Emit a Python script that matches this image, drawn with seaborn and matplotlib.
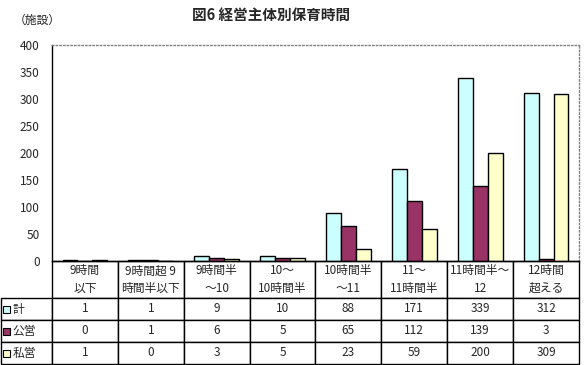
import pandas as pd
import matplotlib
matplotlib.use("Agg")
import matplotlib.pyplot as plt
from matplotlib.patches import Rectangle
import seaborn as sns

categories = ["9時間\n以下", "9時間超 9\n時間半以下", "9時間半\n～10", "10～\n10時間半",
              "10時間半\n～11", "11～\n11時間半", "11時間半～\n12", "12時間\n超える"]
series = ["計", "公営", "私営"]
total = [1, 1, 9, 10, 88, 171, 339, 312]
public = [0, 1, 6, 5, 65, 112, 139, 3]
private = [1, 0, 3, 5, 23, 59, 200, 309]
yticks = [0, 50, 100, 150, 200, 250, 300, 350, 400]

colors = {"計": "#CCFFFF", "公営": "#993366", "私営": "#FFFFCC"}

df = pd.DataFrame({
    "区分": categories * 3,
    "主体": [s for s in series for _ in categories],
    "施設数": total + public + private,
})

sns.set_style("white")
plt.rcParams["font.family"] = ["Noto Sans CJK JP", "DejaVu Sans"]

W, H = 587, 365
AX_W, AX_H = 527, 216
fig = plt.figure(figsize=(W / 100, H / 100), dpi=100)
ax = fig.add_axes([52 / W, 104 / H, AX_W / W, AX_H / H])

sns.barplot(data=df, x="区分", y="施設数", hue="主体", order=categories,
            hue_order=series, palette=colors, width=0.68, gap=0,
            edgecolor="black", linewidth=1.0, saturation=1, ax=ax, legend=False)

ax.set_xlim(-0.5, len(categories) - 0.5)
ax.set_ylim(0, 400)
ax.set_yticks(yticks)
ax.set_yticklabels([str(v) for v in yticks], fontsize=8.5)
ax.tick_params(axis="y", length=0, pad=9)
ax.set_xticks([])
ax.set_xlabel("")
ax.set_ylabel("")
for side in ["left", "bottom"]:
    ax.spines[side].set_color("black")
    ax.spines[side].set_linewidth(1.0)
for side in ["top", "right"]:
    ax.spines[side].set_color("#808080")
    ax.spines[side].set_linestyle(":")
    ax.spines[side].set_linewidth(1.0)

# data table under the chart, sizes in axes fractions (bbox = data cells only)
head_h, row_h, label_w = 37, 22, 51
cell_text = [[str(v) for v in total], [str(v) for v in public], [str(v) for v in private]]
tbl = ax.table(cellText=cell_text, rowLabels=series, colLabels=categories,
               cellLoc="center", rowLoc="left", loc="bottom",
               bbox=[0, -(head_h + 3 * row_h) / AX_H, 1, (head_h + 3 * row_h) / AX_H])
tbl.auto_set_font_size(False)
tbl._autoColumns = []  # keep the fixed width of the row label column
for (r, c), cell in tbl.get_celld().items():
    cell.set_linewidth(1.0)
    cell.set_edgecolor("black")
    cell.get_text().set_fontsize(8.5)
    cell.set_height((head_h if r == 0 else row_h) / AX_H)
    cell.set_width(label_w / AX_W if c == -1 else 1 / len(categories))
    if r == 0:
        cell.get_text().set_linespacing(1.45)
    if c == -1:
        cell.PAD = 0.22

# legend keys inside the row label cells
table_bottom = 104 - (head_h + 3 * row_h)
for i, s in enumerate(series):
    cy = table_bottom + (len(series) - i - 0.5) * row_h
    fig.add_artist(Rectangle((2.5 / W, (cy - 3.5) / H), 7 / W, 7 / H,
                             transform=fig.transFigure, facecolor=colors[s],
                             edgecolor="black", linewidth=0.8, zorder=10))

fig.text(271 / W, 1 - 15 / H, "図6 経営主体別保育時間", ha="center", va="center",
         fontsize=10.5, fontweight="bold")
fig.text(14 / W, 1 - 20 / H, "（施設）", ha="left", va="center", fontsize=8.5)

fig.savefig("out.png", dpi=100)
